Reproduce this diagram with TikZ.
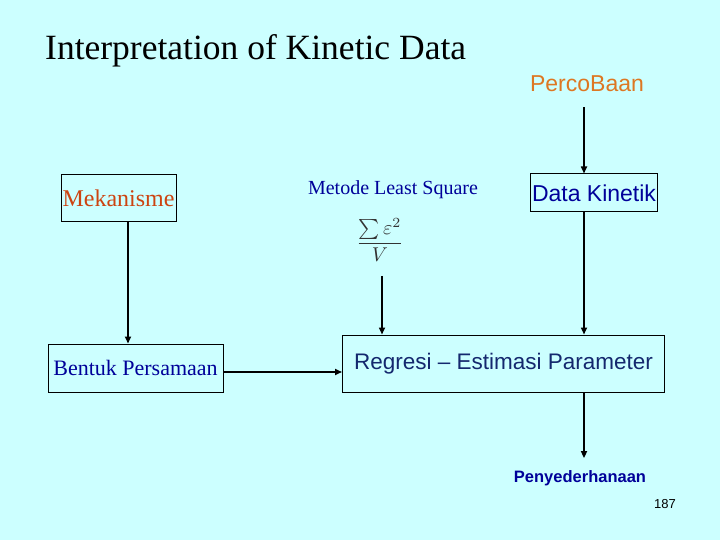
\documentclass[tikz,border=0pt]{standalone}
\usepackage{graphicx}
\usepackage{fontspec}
\setmainfont{Liberation Serif}
\setsansfont{Liberation Sans}
\usetikzlibrary{arrows.meta, positioning}

\definecolor{slidebg}{RGB}{204,255,255}
\definecolor{orangered}{RGB}{204,68,17}
\definecolor{percoorange}{RGB}{221,119,34}
\definecolor{textblue}{RGB}{0,0,153}
\definecolor{slateblue}{RGB}{20,40,110}

\begin{document}
\begin{tikzpicture}[
        x=1pt, y=-1pt,
        box/.style={
            draw=black,
            line width=1pt,
            inner sep=0pt
        },
        label text/.style={
            inner sep=0pt
        },
        arrow/.style={
            line width=1.6pt,
            -{Triangle[length=7pt, width=6pt]}
        }
    ]

    % Slide background
    \fill[slidebg] (0,0) rectangle (720,540);
    \useasboundingbox (0,0) rectangle (720,540);

    % Title
    \node (title) [label text, anchor=base west, font=\fontsize{35.5}{40}\selectfont] at (45,59.5) {Interpretation of Kinetic Data};

    % Boxes
    \node (mek) [box, minimum width=115pt, minimum height=47pt, text=orangered, font=\fontsize{24}{27}\selectfont] at (118.5,198) {Mekanisme};
    \node (bentuk) [box, minimum width=175pt, minimum height=48pt, text=textblue, font=\fontsize{22}{25}\selectfont] at (135.5,368) {Bentuk Persamaan};
    \node (datakin) [box, minimum width=127pt, minimum height=38pt, text=textblue, font=\sffamily\fontsize{23}{26}\selectfont] at (594,193) {Data Kinetik};
    \node (regresi) [box, minimum width=322pt, minimum height=57pt, text=slateblue, font=\sffamily\fontsize{22.5}{26}\selectfont] at (503.5,363.5) {Regresi -- Estimasi Parameter};

    % Free texts
    \node (metode) [label text, text=textblue, font=\fontsize{20}{23}\selectfont] at (393,190) {Metode Least Square};
    \node (formula) [label text, text=black!80] at (380,240) {\scalebox{2}{$\displaystyle\frac{\textstyle\sum\varepsilon^{2}}{V}$}};
    \node (perco) [label text, text=percoorange, font=\sffamily\fontsize{23}{26}\selectfont] at (587,84) {PercoBaan};
    \node (penyed) [label text, text=textblue, font=\sffamily\bfseries\fontsize{16.5}{19}\selectfont] at (580,478) {Penyederhanaan};
    \node (pagenum) [label text, font=\sffamily\fontsize{13}{15}\selectfont] at (665,504) {187};

    % Arrow columns
    \coordinate (colA) at (128,0);
    \coordinate (colB) at (584,0);
    \coordinate (colF) at (382,0);

    % Arrows
    \draw [arrow] (mek.south -| colA) -- (bentuk.north -| colA);
    \draw [arrow] ([yshift=-4pt]bentuk.east) -- ([yshift=-4pt]bentuk.east -| regresi.west);
    \draw [arrow] ([yshift=-14pt]formula.south -| colF) -- (regresi.north -| colF);
    \draw [arrow] ([yshift=-15pt]perco.south -| colB) -- (datakin.north -| colB);
    \draw [arrow] (datakin.south -| colB) -- (regresi.north -| colB);
    \draw [arrow] (regresi.south -| colB) -- ([yshift=12pt]penyed.north -| colB);

\end{tikzpicture}
\end{document}
